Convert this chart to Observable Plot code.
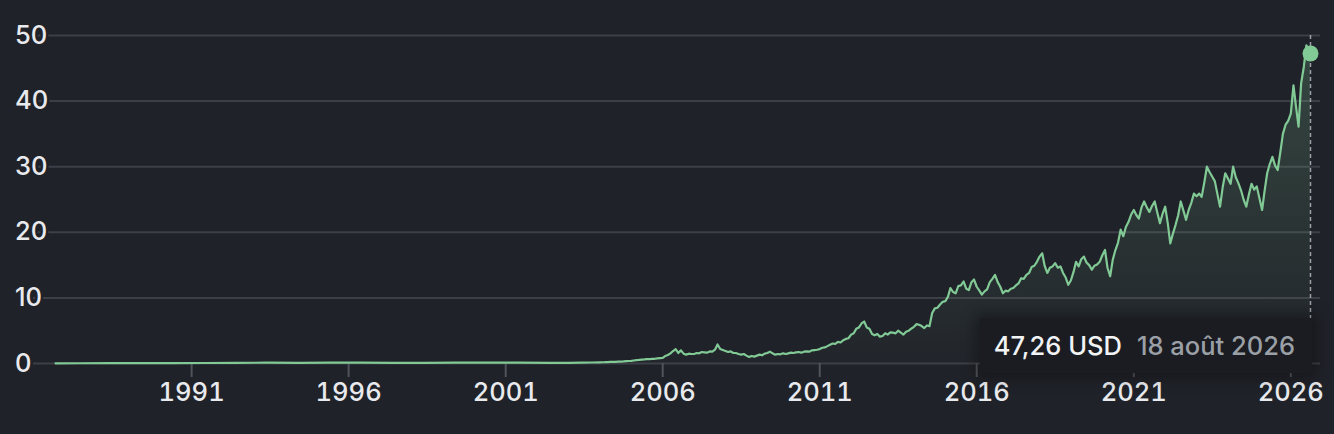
<!DOCTYPE html>
<html><head><meta charset="utf-8">
<script src="https://cdn.jsdelivr.net/npm/d3@7"></script>
<script src="https://cdn.jsdelivr.net/npm/@observablehq/plot@0.6"></script>
<style>
html,body{margin:0;padding:0;background:#202229;}
#chart{position:relative;width:1334px;height:434px;overflow:hidden;}
#tip{position:absolute;background:#1a1c22;box-shadow:0 0 14px 4px rgba(0,0,0,0.35);font:500 25.5px Inter, sans-serif;white-space:nowrap;display:flex;align-items:center;box-sizing:border-box;padding:0 17px 0 14px;}
#tip .v{color:#f1f3f4;}
#tip .d{color:#9aa0a6;margin-left:15px;}
</style></head><body><div id="chart"></div>
<script>
// Early, nearly flat history (dates and values)
const earlyDates = ["1986-09-01","1987-06-01","1988-06-01","1989-06-01","1990-06-01","1991-06-01","1992-06-01","1993-06-01","1994-06-01","1995-06-01",
"1996-06-01","1997-06-01","1998-06-01","1999-06-01","2000-06-01","2001-06-01","2002-06-01","2003-01-01","2003-06-01","2003-10-01"];
const earlyPrices = [0.03,0.04,0.05,0.06,0.07,0.08,0.10,0.12,0.10,0.14,0.12,0.10,0.11,0.12,0.13,0.12,0.10,0.11,0.13,0.15];
// Monthly closes from January 2004 onwards
const monthlyStart = "2004-01-01";
const monthlyPrices = [
/*2004*/ 0.18,0.19,0.20,0.22,0.24,0.25,0.26,0.28,0.30,0.32,0.35,0.38,
/*2005*/ 0.40,0.46,0.52,0.55,0.60,0.62,0.66,0.68,0.71,0.72,0.78,0.82,
/*2006*/ 0.85,1.15,1.30,1.55,1.90,2.20,1.60,2.00,1.50,1.35,1.50,1.45,
/*2007*/ 1.45,1.60,1.55,1.75,1.70,1.65,1.85,1.80,2.10,2.90,2.20,2.05,
/*2008*/ 1.90,1.75,1.85,1.60,1.60,1.45,1.35,1.45,1.20,1.00,1.15,1.05,
/*2009*/ 1.20,1.35,1.25,1.50,1.60,1.80,1.55,1.35,1.45,1.40,1.55,1.45,
/*2010*/ 1.55,1.65,1.60,1.70,1.75,1.65,1.80,1.85,1.80,2.00,2.05,2.10,
/*2011*/ 2.20,2.40,2.45,2.65,2.85,3.05,3.00,3.30,3.20,3.55,3.75,3.85,
/*2012*/ 4.40,4.60,5.30,5.50,6.10,6.40,5.50,5.30,4.50,4.30,4.50,4.10,
/*2013*/ 4.20,4.60,4.40,4.75,4.70,4.60,5.00,4.70,4.40,4.85,5.00,5.30,
/*2014*/ 5.60,6.00,5.90,5.70,5.40,5.80,5.70,7.70,8.40,8.50,9.00,9.40,
/*2015*/ 9.50,10.20,11.50,10.90,10.70,11.80,11.90,12.50,11.40,11.20,12.40,12.80,
/*2016*/ 11.70,11.10,10.50,11.00,11.30,12.40,12.90,13.50,12.40,11.70,10.70,11.10,
/*2017*/ 11.00,11.40,11.50,11.90,12.20,13.00,12.90,13.50,13.80,14.70,14.90,15.50,
/*2018*/ 16.30,16.80,14.90,13.80,14.60,14.80,15.30,14.60,14.80,13.80,13.10,12.00,
/*2019*/ 12.70,14.00,15.50,14.80,15.90,16.30,15.40,15.00,14.30,14.90,15.10,15.50,
/*2020*/ 16.50,17.30,14.60,13.30,15.80,17.30,18.40,20.40,19.40,20.80,21.60,22.70,
/*2021*/ 23.40,22.60,22.10,23.80,24.70,23.80,23.10,24.00,24.70,23.00,21.40,22.80,
/*2022*/ 23.90,21.30,18.30,19.80,21.10,22.60,24.70,23.30,21.90,23.40,24.50,25.90,
/*2023*/ 25.50,25.90,25.40,27.60,30.00,29.20,28.50,27.80,25.80,23.90,26.90,29.00,
/*2024*/ 28.20,27.40,30.00,28.40,27.50,26.40,25.00,23.90,25.80,27.40,26.50,27.00,
/*2025*/ 25.20,23.40,26.20,29.00,30.40,31.50,30.20,29.50,32.20,35.00,36.40,37.00,
/*2026*/ 38.10,42.40,39.30,36.10,42.70,45.20,48.50
];
const lastDate = "2026-08-18";
const lastPrice = 47.26;
const yTicks = [0, 10, 20, 30, 40, 50];
const xTickYears = [1991, 1996, 2001, 2006, 2011, 2016, 2021, 2026];
const tipValue = "47,26 USD";
const tipDate = "18 août 2026";

const data = [
  ...earlyDates.map((d, i) => ({date: new Date(d), price: earlyPrices[i]})),
  ...monthlyPrices.map((p, i) => ({date: d3.utcMonth.offset(new Date(monthlyStart), i), price: p})),
  {date: new Date(lastDate), price: lastPrice}
];
const last = data[data.length - 1];
const xTicks = xTickYears.map(y => new Date(Date.UTC(y, 0, 1)));
const bg = "#202229";

const chart = Plot.plot({
  width: 1334, height: 434,
  marginTop: 35, marginBottom: 71, marginLeft: 33, marginRight: 14,
  style: {background: bg, fontFamily: "Inter, sans-serif", fontSize: "25.5px", fontWeight: 500, color: "#e8eaed"},
  x: {type: "utc", domain: [new Date(earlyDates[0]), last.date], insetLeft: 22, insetRight: 10, axis: null},
  y: {domain: [0, 50], axis: null},
  marks: [
    () => {
      const defs = d3.create("svg:defs");
      const g = defs.append("linearGradient").attr("id", "fillGrad").attr("x1", 0).attr("y1", 0).attr("x2", 0).attr("y2", 1);
      g.append("stop").attr("offset", "0%").attr("stop-color", "#81c995").attr("stop-opacity", 0.22);
      g.append("stop").attr("offset", "100%").attr("stop-color", "#81c995").attr("stop-opacity", 0.02);
      return defs.node();
    },
    Plot.gridY(yTicks, {stroke: "#3c3f47", strokeOpacity: 1, strokeWidth: 2}),
    Plot.axisX(xTicks, {tickSize: 14, tickPadding: 5, tickFormat: d3.utcFormat("%Y"), stroke: "#50535b", strokeWidth: 2, fill: "#e8eaed", fontSize: 25.5, fontWeight: 500}),
    Plot.areaY(data, {x: "date", y: "price", fill: "url(#fillGrad)"}),
    Plot.lineY(data, {x: "date", y: "price", stroke: "#81c995", strokeWidth: 2.2}),
    Plot.ruleX([last], {x: "date", y1: 50, y2: 0, insetBottom: -9, stroke: "#9aa0a6", strokeWidth: 1.5, strokeDasharray: "4,3"}),
    Plot.dot([last], {x: "date", y: "price", r: 8, fill: "#81c995"}),
    Plot.text(yTicks, {y: d => d, text: d => String(d), frameAnchor: "left", textAnchor: "start", dx: -18.5, fill: "#e8eaed", stroke: bg, strokeWidth: 5, paintOrder: "stroke", fontSize: 25.5, fontWeight: 500})
  ]
});
const root = document.getElementById("chart");
root.appendChild(chart);
const xs = chart.scale("x").apply(last.date);
const y0 = chart.scale("y").apply(0);
const tip = document.createElement("div");
tip.id = "tip";
tip.innerHTML = `<span class="v">${tipValue}</span><span class="d">${tipDate}</span>`;
tip.style.right = (1334 - xs - 2) + "px";
tip.style.top = (y0 - 45) + "px";
tip.style.height = "55px";
root.appendChild(tip);
</script></body></html>
